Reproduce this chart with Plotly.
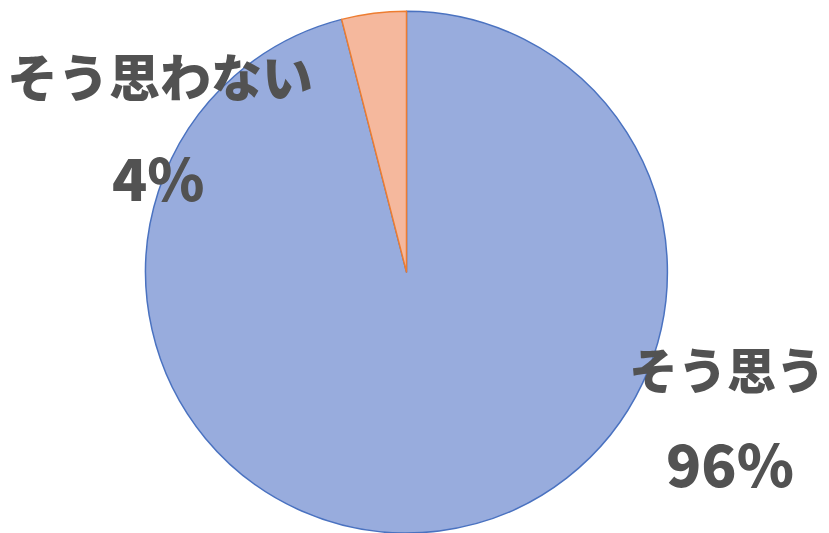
import plotly.graph_objects as go

labels = ["そう思う", "そう思わない"]
values = [96, 4]
pct_text = ["96%", "4%"]
fill_colors = ["#98acdd", "#f5b89d"]
edge_colors = ["#4a72c0", "#ed7d31"]

fig = go.Figure()
fig.add_trace(go.Pie(
    labels=labels,
    values=values,
    sort=False,
    direction="clockwise",
    rotation=0,
    textinfo="none",
    hoverinfo="label+percent",
    marker=dict(colors=fill_colors, line=dict(color=edge_colors, width=1.5)),
    domain=dict(x=[0.1755, 0.8052], y=[0.0, 0.979]),
    showlegend=False,
))

W, H = 829, 533
ann_pos = [
    ((727, 367), (730, 462)),
    ((160, 75), (158, 176)),
]
sizes = [(49, 58), (51, 58)]
for lab, pct, (p1, p2), (s1, s2) in zip(labels, pct_text, ann_pos, sizes):
    fig.add_annotation(x=p1[0] / W, y=1 - p1[1] / H, xref="paper", yref="paper",
                       text=lab, showarrow=False,
                       font=dict(family="Noto Sans CJK JP", size=s1, color="#525252", weight=900),
                       xanchor="center", yanchor="middle")
    fig.add_annotation(x=p2[0] / W, y=1 - p2[1] / H, xref="paper", yref="paper",
                       text=pct, showarrow=False,
                       font=dict(family="Noto Sans CJK JP", size=s2, color="#525252", weight=900),
                       xanchor="center", yanchor="middle")

fig.update_layout(
    width=W, height=H,
    margin=dict(l=0, r=0, t=0, b=0),
    paper_bgcolor="white",
    plot_bgcolor="white",
)
fig.write_html("out.html")
